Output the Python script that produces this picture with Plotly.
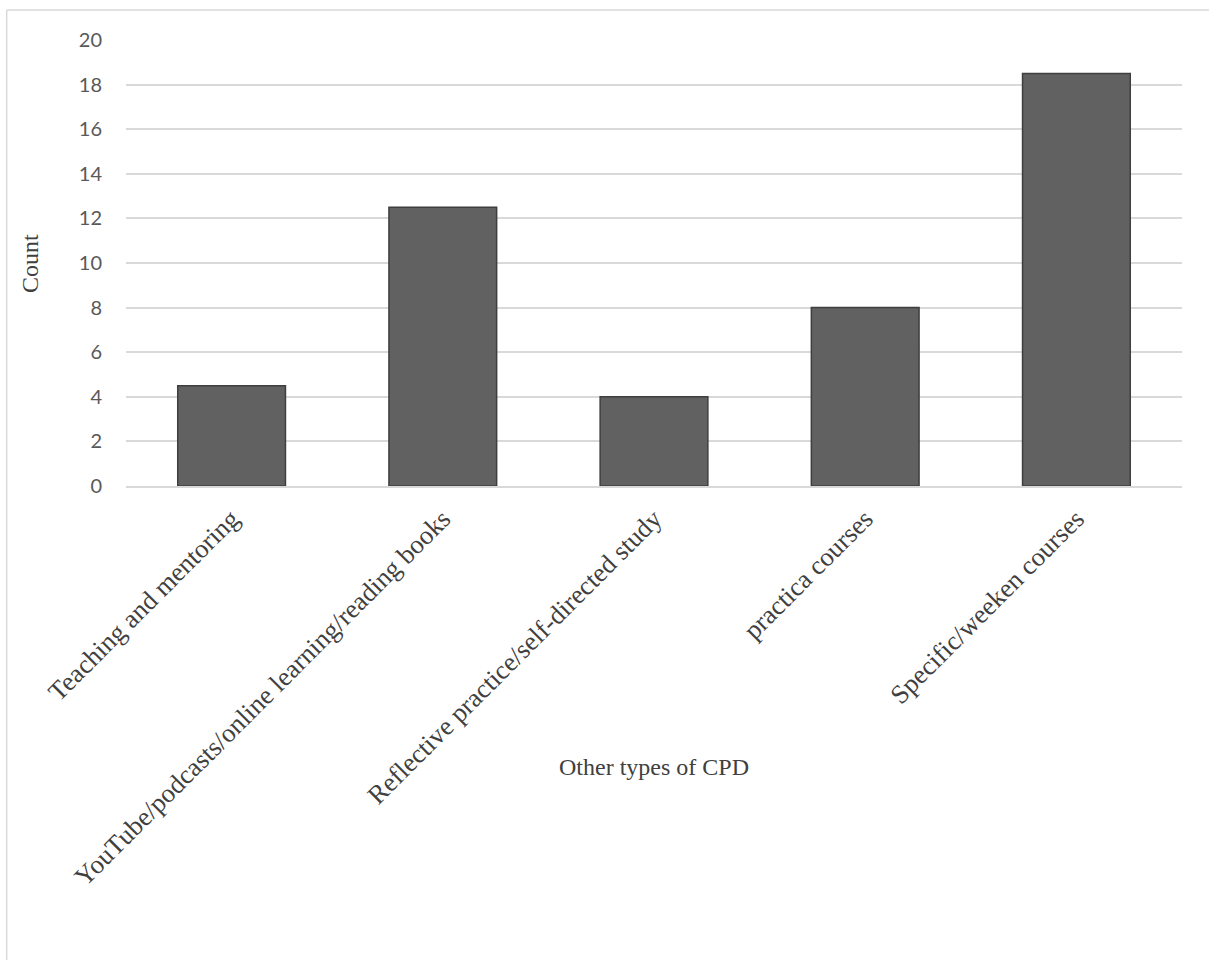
import plotly.graph_objects as go

# Other types of continuing professional development reported
categories = [
    "Teaching and mentoring",
    "YouTube/podcasts/online learning/reading books",
    "Reflective practice/self-directed study",
    "practica courses",
    "Specific/weeken courses",
]
counts = [4.5, 12.5, 4, 8, 18.5]
y_ticks = [0, 2, 4, 6, 8, 10, 12, 14, 16, 18, 20]

SERIF = "Liberation Serif, Times New Roman, serif"

fig = go.Figure()
fig.add_trace(go.Bar(
    x=categories,
    y=counts,
    width=0.51,
    marker=dict(color="#616161", line=dict(color="#3f3f3f", width=1.5)),
    hoverinfo="x+y",
))

fig.update_layout(
    width=1209,
    height=960,
    paper_bgcolor="white",
    plot_bgcolor="white",
    showlegend=False,
    margin=dict(l=126, r=27, t=40, b=474, autoexpand=False),
    xaxis=dict(
        type="category",
        tickangle=-45,
        tickfont=dict(family=SERIF, size=26.5, color="#404040"),
        showgrid=False,
        showline=True,
        linecolor="#d9d9d9",
        linewidth=1.5,
        ticks="outside",
        ticklen=5,
        tickcolor="rgba(0,0,0,0)",
        automargin=False,
    ),
    yaxis=dict(
        range=[0, 20],
        tickvals=y_ticks,
        tickfont=dict(family="Lato, Liberation Sans, sans-serif", size=20, color="#595959"),
        showgrid=True,
        gridcolor="#d9d9d9",
        gridwidth=1.5,
        zeroline=False,
        showline=False,
        ticks="outside",
        ticklen=19,
        tickcolor="rgba(0,0,0,0)",
        automargin=False,
    ),
    annotations=[
        dict(text="Other types of CPD", xref="paper", yref="paper", x=0.5, y=-0.63,
             showarrow=False, xanchor="center", yanchor="middle",
             font=dict(family=SERIF, size=24, color="#404040")),
        dict(text="Count", xref="paper", yref="paper", x=-0.091, y=0.5, textangle=-90,
             showarrow=False, xanchor="center", yanchor="middle",
             font=dict(family=SERIF, size=24, color="#404040")),
    ],
    shapes=[
        # chart frame (top and left edges inside the page)
        dict(type="line", xref="paper", yref="paper", x0=-0.113, x1=1.1, y0=1.0673, y1=1.0673,
             line=dict(color="#d9d9d9", width=1.5)),
        dict(type="line", xref="paper", yref="paper", x0=-0.113, x1=-0.113, y0=1.0673, y1=-1.2,
             line=dict(color="#d9d9d9", width=1.5)),
    ],
)

fig.write_html("out.html")
